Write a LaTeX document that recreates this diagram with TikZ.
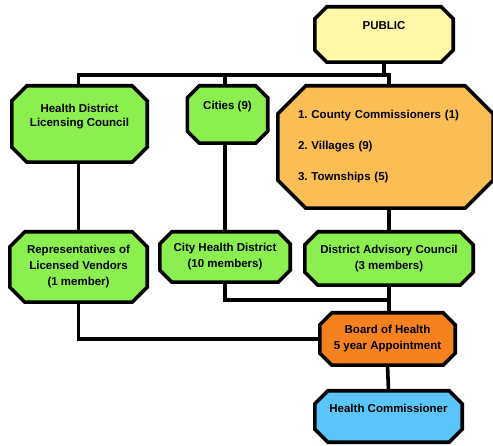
\documentclass[tikz,border=0pt]{standalone}
\usepackage{fontspec}
\setmainfont{Liberation Sans}
\usetikzlibrary{backgrounds}
\definecolor{pubyellow}{HTML}{FFF8A8}
\definecolor{grpgreen}{HTML}{8CEF50}
\definecolor{lightorange}{HTML}{FBBE55}
\definecolor{darkorange}{HTML}{F5821F}
\definecolor{skyblue}{HTML}{5BC4F8}
\frenchspacing
\begin{document}
\begin{tikzpicture}[x=1pt,y=-1pt,
    octbox/.style={rectangle,inner sep=0pt,align=center,
      font=\bfseries\fontsize{11.5}{16}\selectfont},
    octline/.style={line width=3.6pt,line join=miter,draw=black},
    wire/.style={line width=3.6pt}]
      \useasboundingbox (0,0) rectangle (493,446);
      \draw
        (384,34.5) node[octbox,minimum width=138pt,minimum height=55pt,text depth=19pt] (pub){PUBLIC}
        (79.5,124) node[octbox,minimum width=135pt,minimum height=76pt,font=\bfseries\fontsize{11.5}{14}\selectfont,text depth=18pt] (hdlc){Health District\\Licensing Council}
        (227.5,114.5) node[octbox,minimum width=80pt,minimum height=57pt,text depth=19pt] (cit){Cities (9)}
        (385.5,147) node[octbox,minimum width=215pt,minimum height=122pt,text width=175pt,align=left,font=\bfseries\fontsize{11.5}{31}\selectfont] (ctw){1. County Commissioners (1)\\2. Villages (9)\\3. Townships (5)}
        (78.5,267) node[octbox,minimum width=137pt,minimum height=70pt] (reps){Representatives of\\Licensed Vendors\\(1 member)}
        (225,257) node[octbox,minimum width=130pt,minimum height=50pt] (chd){City Health District\\(10 members)}
        (389,258.5) node[octbox,minimum width=168pt,minimum height=53pt] (dac){District Advisory Council\\(3 members)}
        (387.5,339) node[octbox,minimum width=135pt,minimum height=52pt] (boh){Board of Health\\5 year Appointment}
        (388.5,416.5) node[octbox,minimum width=147pt,minimum height=51pt,text depth=17pt] (hc){Health Commissioner};
      % octagons behind the texts
      \begin{scope}[on background layer]
        \foreach \n/\c/\f in {pub/12/pubyellow,hdlc/15/grpgreen,cit/12/grpgreen,ctw/28/lightorange,
            reps/15/grpgreen,chd/12/grpgreen,dac/13/grpgreen,boh/12/darkorange,hc/13/skyblue}
          \filldraw[octline,fill=\f] ([xshift=\c pt]\n.north west) -- ([xshift=-\c pt]\n.north east)
            -- ([yshift=-\c pt]\n.north east) -- ([yshift=\c pt]\n.south east)
            -- ([xshift=-\c pt]\n.south east) -- ([xshift=\c pt]\n.south west)
            -- ([yshift=\c pt]\n.south west) -- ([yshift=-\c pt]\n.north west) -- cycle;
      \end{scope}
      \coordinate (bus) at (0,75);
      \coordinate (join) at (0,300);
      \begin{scope}[wire]
        \draw (pub.south) -- (pub.south |- bus);
        \draw (reps.north |- hdlc.north) -- (reps.north |- bus) -- (dac.north |- bus) -- (dac.north |- ctw.north);
        \draw (chd.north |- cit.north) -- (chd.north |- bus);
        \draw (reps.north |- hdlc.south) -- (reps.north);
        \draw (chd.north |- cit.south) -- (chd.north);
        \draw (dac.north |- ctw.south) -- (dac.north);
        \draw (chd.south) -- (chd.south |- join) -- (dac.south |- join);
        \draw (dac.south) -- (dac.south |- boh.north);
        \draw (reps.south) |- (boh.west);
        \draw (boh.south) -- (hc.north);
      \end{scope}
    \end{tikzpicture}
\end{document}
